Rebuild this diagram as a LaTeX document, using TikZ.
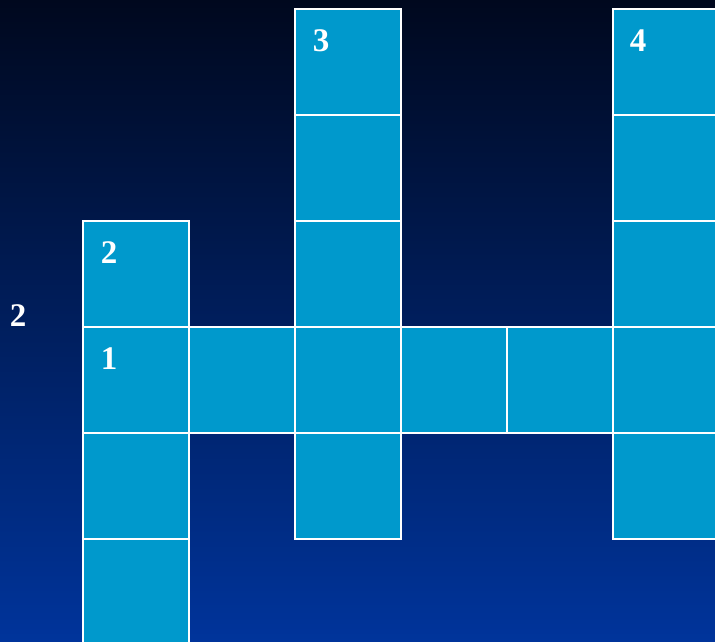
\documentclass[tikz,border=0pt]{standalone}
\usepackage{fontspec}
\setmainfont{Liberation Serif}
\usepackage{xcolor}
\usepackage{tikz}
\definecolor{bgtop}{RGB}{0,8,30}
\definecolor{bgbottom}{RGB}{0,52,155}
\definecolor{cellblue}{RGB}{0,153,204}
\tikzset{
  cell/.style={
    draw=white,
    fill=cellblue,
    line width=1.6pt,
    minimum size=106pt,
    inner sep=0pt,
    anchor=north west
  },
  numtag/.style={
    text=white,
    inner sep=0pt,
    font=\bfseries\fontsize{33}{33}\selectfont
  }
}

\begin{document}
\begin{tikzpicture}[x=1pt,y=-1pt]
  \useasboundingbox (0,0) rectangle (715,641);
  \shade[top color=bgtop,bottom color=bgbottom] (0,0) rectangle (715,641);
  \clip (0,0) rectangle (715,641);
  % grid cells: column/row pairs
  \foreach \c/\r in {0/2,0/3,0/4,0/5,1/3,2/0,2/1,2/2,2/3,2/4,3/3,4/3,5/0,5/1,5/2,5/3,5/4}
    \node[cell] (c\c r\r) at ({82+106*\c},{8+106*\r}) {};
  % clue numbers
  \node[numtag] (n2) at ([xshift=27pt,yshift=-33pt]c0r2.north west) {2};
  \node[numtag] (n1) at ([xshift=27pt,yshift=-33pt]c0r3.north west) {1};
  \node[numtag] (n3) at ([xshift=27pt,yshift=-33pt]c2r0.north west) {3};
  \node[numtag] (n4) at ([xshift=26pt,yshift=-33pt]c5r0.north west) {4};
  \node[numtag] (side) at (18,316) {2};
\end{tikzpicture}
\end{document}
